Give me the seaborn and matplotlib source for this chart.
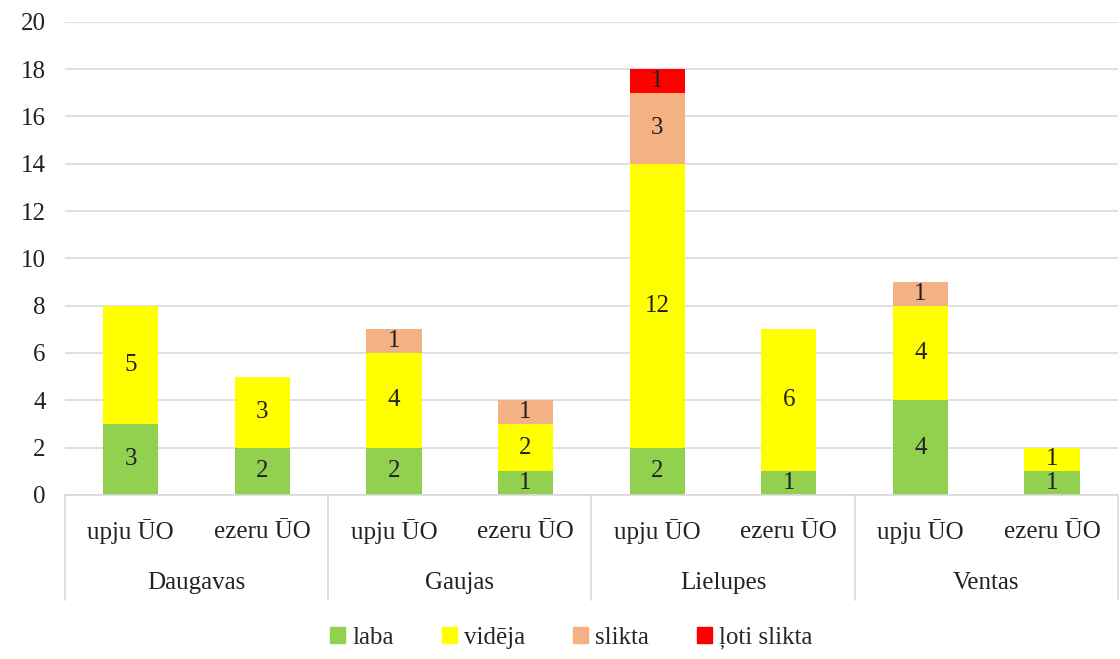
import matplotlib
matplotlib.use("Agg")
import matplotlib.pyplot as plt
import matplotlib.patches as mpatches
import matplotlib.transforms as mtransforms
import seaborn as sns
import pandas as pd
import numpy as np

# data
basins = ["Daugavas", "Gaujas", "Lielupes", "Ventas"]
water_types = ["upju ŪO", "ezeru ŪO"]
laba = [3, 2, 2, 1, 2, 1, 4, 1]
videja = [5, 3, 4, 2, 12, 6, 4, 1]
slikta = [0, 0, 1, 1, 3, 0, 1, 0]
loti_slikta = [0, 0, 0, 0, 1, 0, 0, 0]
series_names = ["laba", "vidēja", "slikta", "ļoti slikta"]
colors = ["#92D050", "#FFFF00", "#F4B183", "#FF0000"]

sns.set_style("white")
plt.rcParams["font.family"] = ["Liberation Serif", "DejaVu Serif"]

FS = 18
TXT = "#222222"
keys = [f"{b} {w}" for b in basins for w in water_types]
sub_labels = [w for b in basins for w in water_types]
values = np.array([laba, videja, slikta, loti_slikta])
cum = values.cumsum(axis=0)

fig = plt.figure(figsize=(11.2, 6.59), dpi=100)
ax = fig.add_axes([0.058, 0.249, 0.94, 0.718])

# stacked bars: draw cumulative totals from the top layer down
for i in range(len(series_names) - 1, -1, -1):
    df = pd.DataFrame({"key": keys, "total": cum[i]})
    sns.barplot(data=df, x="key", y="total", order=keys, color=colors[i],
                width=0.42, saturation=1, ax=ax, zorder=2, linewidth=0)

# segment labels
for i in range(len(series_names)):
    for j, k in enumerate(keys):
        v = values[i, j]
        if v > 0:
            ax.text(j, cum[i, j] - v / 2, str(v), ha="center", va="center",
                    fontsize=FS, color=TXT, zorder=3)

ax.set_ylim(0, 20)
ax.set_xlim(-0.5, len(keys) - 0.5)
ax.set_yticks(range(0, 21, 2))
ax.yaxis.grid(True, color="#D9D9D9", linewidth=1.2, zorder=0)
ax.set_axisbelow(True)
for s in ["left", "right", "top"]:
    ax.spines[s].set_visible(False)
ax.spines["bottom"].set_color("#D9D9D9")
ax.spines["bottom"].set_linewidth(1.2)
ax.set_xlabel("")
ax.set_ylabel("")
ax.set_xticks([])
ax.tick_params(axis="y", length=0, pad=14, labelsize=FS, labelcolor=TXT)

# two-level category labels and separators
trans = mtransforms.blended_transform_factory(ax.transData, ax.transAxes)
for j, lab in enumerate(sub_labels):
    ax.text(j, -0.078, lab, transform=trans, ha="center", va="center",
            fontsize=FS, color=TXT)
for g, b in enumerate(basins):
    ax.text(2 * g + 0.5, -0.186, b, transform=trans, ha="center", va="center",
            fontsize=FS, color=TXT)
for g in range(len(basins) + 1):
    ax.plot([2 * g - 0.5, 2 * g - 0.5], [0, -0.222], transform=trans,
            color="#D9D9D9", linewidth=1.2, clip_on=False)

handles = [mpatches.Patch(color=c, label=n) for c, n in zip(colors, series_names)]
fig.legend(handles=handles, loc="center", bbox_to_anchor=(0.51, 0.032), ncol=4,
           frameon=False, fontsize=FS, handlelength=0.6, handleheight=0.6,
           handletextpad=0.3, columnspacing=1.9)

fig.savefig("out.png", dpi=100)
